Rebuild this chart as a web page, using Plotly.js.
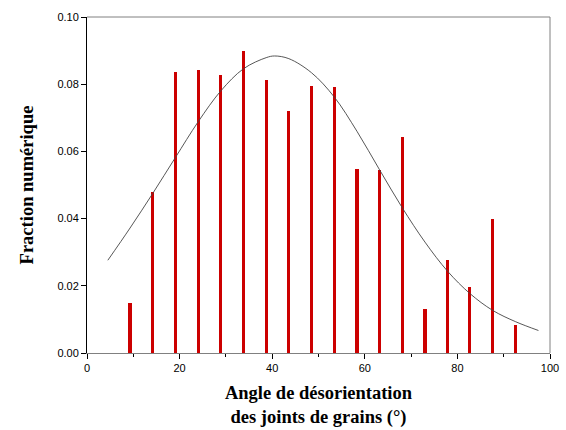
<!DOCTYPE html>
<html>
<head>
<meta charset="utf-8">
<script src="https://cdn.plot.ly/plotly-3.0.1.min.js"></script>
<style>html,body{margin:0;padding:0;background:#fff;}#chart{width:566px;height:430px;}</style>
</head>
<body>
<div id="chart"></div>
<script>
// Bar data: misorientation angle (deg) and number fraction
const angles = [4.4, 9.3, 14.2, 19.1, 24.0, 28.9, 33.8, 38.7, 43.6, 48.5, 53.4, 58.3, 63.2, 68.1, 73.0, 77.9, 82.7, 87.6, 92.6, 97.5];
const fractions = [0.0, 0.0149, 0.0478, 0.0836, 0.0843, 0.0826, 0.0899, 0.0813, 0.0720, 0.0795, 0.0791, 0.0547, 0.0544, 0.0642, 0.0132, 0.0276, 0.0196, 0.0399, 0.0084, 0.0];

// Fitted curve, points
const curveX = [4.5, 9.3, 14.2, 19.1, 24.0, 28.9, 33.8, 38.7, 40.5, 43.6, 48.5, 53.4, 58.3, 63.2, 68.1, 73.0, 77.9, 82.7, 87.6, 92.6, 97.5];
const curveY = [0.0276, 0.0372, 0.0475, 0.0582, 0.0688, 0.0780, 0.0846, 0.0879, 0.0884, 0.0876, 0.0834, 0.0762, 0.0660, 0.0545, 0.0432, 0.0330, 0.0243, 0.0177, 0.0127, 0.0093, 0.0067];

const xTicks = [0, 20, 40, 60, 80, 100];
const yTicks = [0.00, 0.02, 0.04, 0.06, 0.08, 0.10];

const data = [
  {
    type: 'bar', x: angles, y: fractions, width: 0.68,
    marker: {color: '#cc0000', line: {width: 0}},
    hoverinfo: 'x+y'
  },
  {
    type: 'scatter', mode: 'lines', x: curveX, y: curveY,
    line: {color: '#444444', width: 0.9, shape: 'spline', smoothing: 1},
    hoverinfo: 'x+y'
  }
];

const titleFont = {family: 'Liberation Serif, Times New Roman, serif', size: 18.5, color: '#000', weight: 'bold'};
const tickFont = {family: 'Liberation Sans, Arial, sans-serif', size: 11, color: '#000'};

const layout = {
  width: 566, height: 430,
  margin: {l: 87, r: 16, t: 17, b: 77},
  paper_bgcolor: '#ffffff', plot_bgcolor: '#ffffff',
  showlegend: false,
  bargap: 0,
  font: tickFont,
  xaxis: {
    range: [0, 100], tickvals: xTicks, ticktext: xTicks.map(String),
    showgrid: false, zeroline: false,
    showline: true, linecolor: '#808080', linewidth: 1,
    ticks: 'outside', ticklen: 5, tickcolor: '#000', tickwidth: 1,
    minor: {dtick: 10, tick0: 0, ticks: 'outside', ticklen: 3, tickcolor: '#000', showgrid: false},
    tickfont: tickFont,
    automargin: false,
    title: {
      text: 'Angle de désorientation<br>des joints de grains (°)',
      font: titleFont,
      standoff: 12
    }
  },
  yaxis: {
    range: [0, 0.1], tickvals: yTicks, ticktext: yTicks.map(v => v.toFixed(2)),
    showgrid: false, zeroline: false,
    showline: true, linecolor: '#000', linewidth: 1,
    ticks: 'outside', ticklen: 5, tickcolor: '#000', tickwidth: 1,
    tickfont: tickFont,
    automargin: false,
    title: {
      text: 'Fraction numérique',
      font: titleFont,
      standoff: 18
    }
  },
  shapes: [
    {type: 'line', xref: 'paper', yref: 'paper', x0: 0, x1: 1, y0: 1, y1: 1, line: {color: '#808080', width: 1}},
    {type: 'line', xref: 'paper', yref: 'paper', x0: 1, x1: 1, y0: 0, y1: 1, line: {color: '#808080', width: 1}}
  ]
};

Plotly.newPlot('chart', data, layout, {displayModeBar: false, staticPlot: true});
</script>
</body>
</html>
